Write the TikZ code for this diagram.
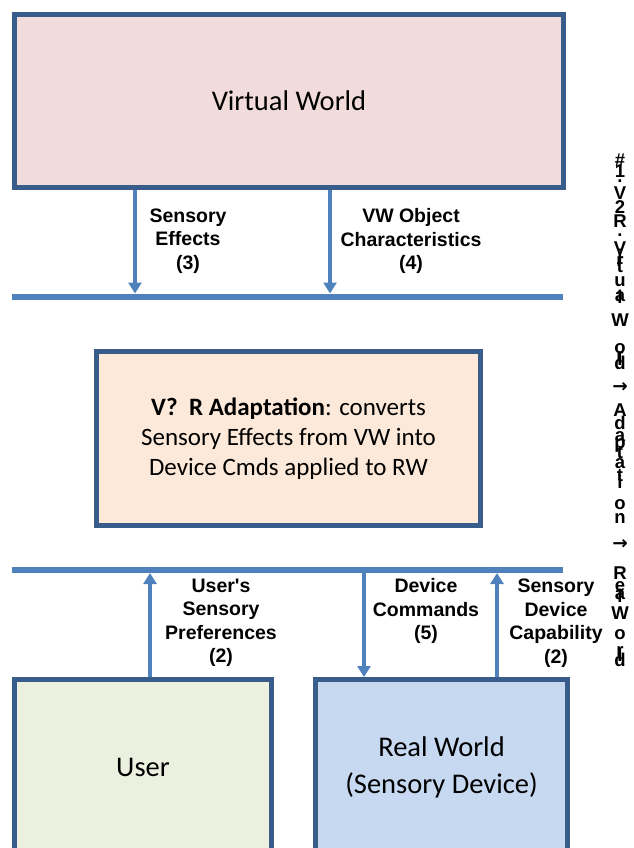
\documentclass[tikz,border=0pt]{standalone}
\usepackage{fontspec}
\setmainfont{Carlito}
\newfontfamily\labelfont{Liberation Sans}
\newfontfamily\arrowfont{DejaVu Sans}
\usetikzlibrary{positioning,arrows.meta}

\definecolor{boxline}{HTML}{385D8A}
\definecolor{busblue}{HTML}{4F81BD}
\definecolor{vwfill}{HTML}{F2DCDB}
\definecolor{adaptfill}{HTML}{FDE9D9}
\definecolor{userfill}{HTML}{EBF1DE}
\definecolor{rwfill}{HTML}{C6D9F1}

% glyphs stacked tightly, lines may overlap
\newcommand\sidefont{\labelfont\bfseries\fontsize{18.5}{13}\selectfont\lineskiplimit=-1000pt\relax}
\newcommand\sidearrow{{\arrowfont\bfseries →}}

\begin{document}
\begin{tikzpicture}[x=1pt,y=-1pt,
    world/.style={rectangle, draw=boxline, line width=5pt, inner sep=0pt, align=center, font=\fontsize{28.5}{37}\selectfont},
    tag/.style={align=center, inner sep=0pt, font=\labelfont\bfseries\fontsize{19.5}{23.5}\selectfont},
    flow/.style={busblue, line width=4pt, -{Triangle[length=11pt,width=13pt]}},
    bus/.style={busblue, line width=6pt},
    sidetitle/.style={anchor=north, inner sep=0pt, align=center, font=\sidefont}]
        \useasboundingbox (0,0) rectangle (633,848);
        \clip (0,0) rectangle (633,848);

        % Nodes
        \node [world, fill=vwfill, minimum width=549pt, minimum height=173pt] (vw) at (289,101) {Virtual World};
        \node [world, fill=adaptfill, minimum width=384pt, minimum height=174pt, font=\fontsize{25}{30}\selectfont] (adapt) at (288.5,438.5)
            {\textbf{V?\ \ R Adaptation}: converts\\Sensory Effects from VW into\\Device Cmds applied to RW};
        \node [world, fill=userfill, minimum width=257pt, minimum height=175pt] (user) at (143,767) {User};
        \node [world, fill=rwfill, minimum width=252pt, minimum height=175pt] (rw) at (441.5,767) {Real World\\(Sensory Device)};

        % Buses
        \coordinate (bus1w) at (12,296.5);
        \coordinate (bus1e) at (563,296.5);
        \coordinate (bus2w) at (12,570);
        \coordinate (bus2e) at (563,570);
        \coordinate (effin) at (135,293.5);
        \coordinate (objin) at (330,293.5);
        \coordinate (prefout) at (150,573);
        \coordinate (cmdout) at (364,573);
        \coordinate (capout) at (497,573);
        \draw[bus] (bus1w) -- (bus1e);
        \draw[bus] (bus2w) -- (bus2e);

        % Labels
        \node [tag] (effects) at (188,241) {Sensory\\Effects\\(3)};
        \node [tag] (objects) at (411,241) {VW Object\\Characteristics\\(4)};
        \node [tag] (prefs) at (221,623) {User's\\Sensory\\Preferences\\(2)};
        \node [tag] (cmds) at (426,611) {Device\\Commands\\(5)};
        \node [tag] (caps) at (556,623) {Sensory\\Device\\Capability\\(2)};

        % Arrows
        \draw[flow] (vw.south -| effin) -- (effin);
        \draw[flow] (vw.south -| objin) -- (objin);
        \draw[flow] (user.north -| prefout) -- (prefout);
        \draw[flow] (cmdout) -- (rw.north -| cmdout);
        \draw[flow] (rw.north -| capout) -- (capout);

        % Side title, one glyph per line
        \node [sidetitle] (side) at (620,154) {\#\\[-2pt]1\\[-8pt].\\[4pt]V\\[1pt]2\\[1pt]R\\[-4pt].\\[5pt]V\\[-5pt]i\\[-9pt]r\\[-7pt]t\\[1pt]u\\[2pt]a\\[-11pt]l\\[10pt]W\\[14pt]%
            o\\[-5pt]r\\[-9pt]l\\[-9pt]d\\[10pt]\sidearrow\\[11pt]A\\[0pt]d\\[-1pt]a\\[-6pt]p\\[-3pt]t\\[-3pt]a\\[0pt]t\\[-6pt]i\\[8pt]o\\[1pt]n\\[13pt]\sidearrow\\[17pt]%
            R\\[-1pt]e\\[-5pt]a\\[-10pt]l\\[4pt]W\\[7pt]o\\[4pt]r\\[-8pt]l\\[-8pt]d};
\end{tikzpicture}
\end{document}
